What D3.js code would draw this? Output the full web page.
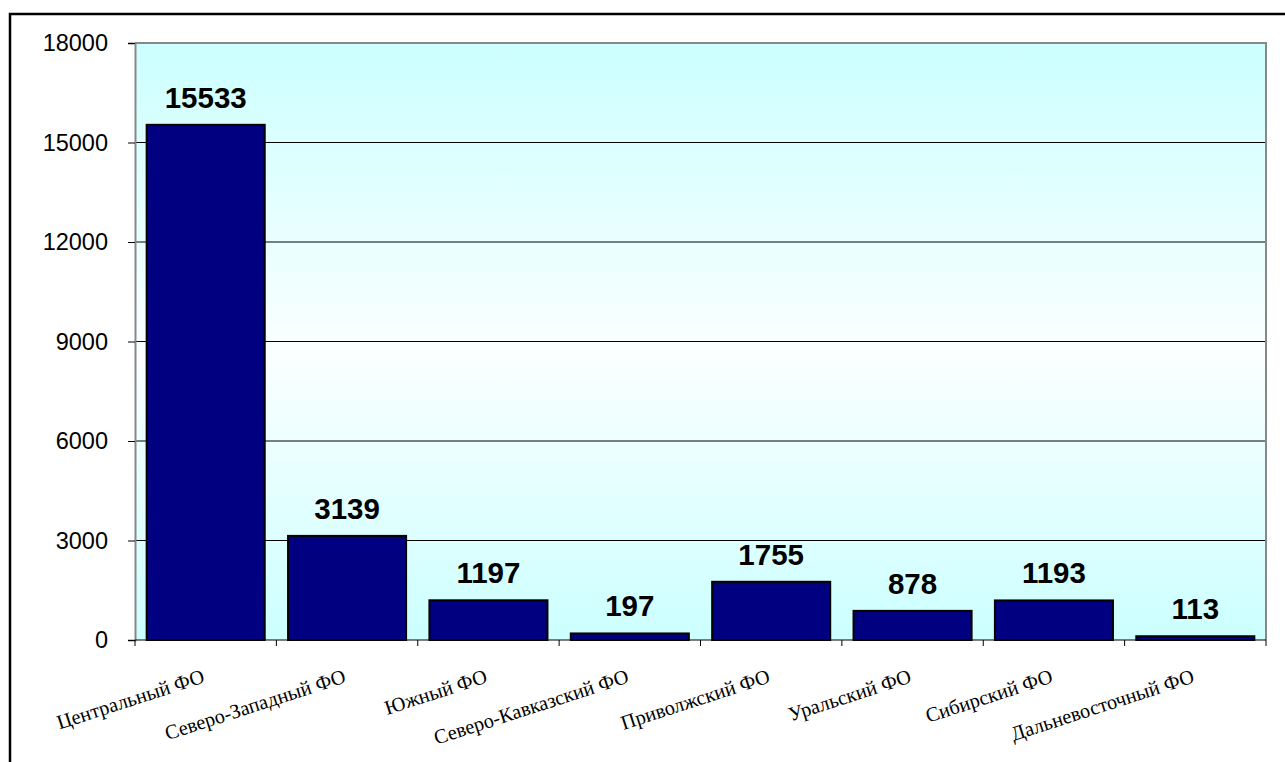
<!DOCTYPE html>
<html><head><meta charset="utf-8">
<script src="https://cdn.jsdelivr.net/npm/d3@7"></script>
<style>body{margin:0;background:#fff}svg{display:block}</style>
</head><body>
<script>
const categories = ["Центральный ФО","Северо-Западный ФО","Южный ФО","Северо-Кавказский ФО","Приволжский ФО","Уральский ФО","Сибирский ФО","Дальневосточный ФО"];
const values = [15533, 3139, 1197, 197, 1755, 878, 1193, 113];
const yTicks = [0, 3000, 6000, 9000, 12000, 15000, 18000];

const W = 1285, H = 762;
const L = 135, R = 1266, T = 43, B = 640;
const svg = d3.select("body").append("svg").attr("width", W).attr("height", H);

// outer frame
svg.append("rect").attr("x", 10).attr("y", 14).attr("width", W).attr("height", H)
  .attr("fill", "none").attr("stroke", "#000").attr("stroke-width", 2.5);

const defs = svg.append("defs");
const g = defs.append("linearGradient").attr("id", "bg").attr("x1", 0).attr("y1", 0).attr("x2", 0).attr("y2", 1);
g.append("stop").attr("offset", "0%").attr("stop-color", "#ccffff");
g.append("stop").attr("offset", "52%").attr("stop-color", "#fbffff");
g.append("stop").attr("offset", "100%").attr("stop-color", "#ccffff");

const x = d3.scaleBand().domain(categories).range([L, R]).paddingInner(0.165).paddingOuter(0.0825);
const xb = d3.scaleBand().domain(categories).range([L, R]);
const y = d3.scaleLinear().domain([0, 18000]).range([B, T]);

svg.append("rect").attr("x", L).attr("y", T).attr("width", R - L).attr("height", B - T).attr("fill", "url(#bg)");

// gridlines
svg.append("g").selectAll("line").data(yTicks.filter(d => d > 0 && d < 18000)).join("line")
  .attr("x1", L).attr("x2", R).attr("y1", d => y(d)).attr("y2", d => y(d))
  .attr("stroke", "#000").attr("stroke-width", 1);

// plot border top/right
svg.append("path").attr("d", `M${L},${T}H${R}V${B}`).attr("fill", "none").attr("stroke", "#888").attr("stroke-width", 2);

// bars
svg.append("g").selectAll("rect").data(values).join("rect")
  .attr("x", (d, i) => x(categories[i])).attr("width", x.bandwidth())
  .attr("y", d => y(d)).attr("height", d => B - y(d))
  .attr("fill", "#000080").attr("stroke", "#000").attr("stroke-width", 2);

// value labels
svg.append("g").selectAll("text").data(values).join("text")
  .attr("x", (d, i) => x(categories[i]) + x.bandwidth() / 2).attr("y", d => y(d) - 17)
  .attr("text-anchor", "middle").attr("font-family", "Liberation Sans, Arial, sans-serif")
  .attr("font-weight", "bold").attr("font-size", 29.5).attr("fill", "#000").text(d => d);

// y axis
const ya = d3.axisLeft(y).tickValues(yTicks).tickSize(7).tickPadding(20).tickFormat(d3.format("d"));
const yg = svg.append("g").attr("transform", `translate(${L},0)`).call(ya);
yg.select(".domain").attr("stroke", "#888").attr("stroke-width", 2);
yg.selectAll(".tick line").attr("stroke", "#000");
yg.selectAll(".tick text").attr("font-family", "Liberation Sans, Arial, sans-serif").attr("font-size", 23.5).attr("fill", "#000");

// x axis baseline and ticks at category boundaries
svg.append("line").attr("x1", L).attr("x2", R).attr("y1", B).attr("y2", B).attr("stroke", "#000").attr("stroke-width", 1);
const bounds = categories.map(c => xb(c)).concat([R]);
svg.append("g").selectAll("line").data(bounds).join("line")
  .attr("x1", d => d).attr("x2", d => d).attr("y1", B).attr("y2", B + 6).attr("stroke", "#000");

// x labels
svg.append("g").selectAll("text").data(categories).join("text")
  .attr("transform", c => `translate(${xb(c) + xb.bandwidth() / 2},${682}) rotate(-18)`)
  .attr("text-anchor", "end").attr("font-family", "Liberation Serif, Times New Roman, serif")
  .attr("font-size", 20.3).attr("fill", "#000").text(c => c);
</script>
</body></html>
